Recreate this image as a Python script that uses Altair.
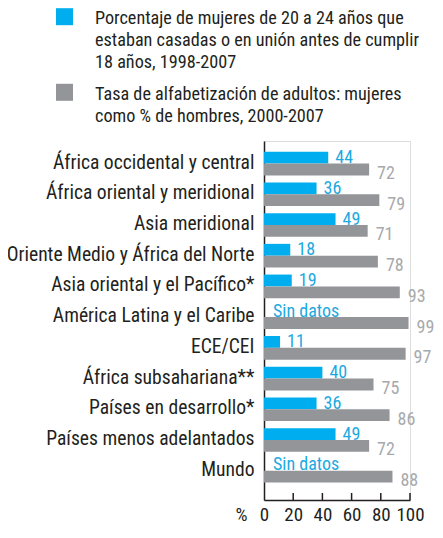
import altair as alt
import pandas as pd

regions = [
    "África occidental y central",
    "África oriental y meridional",
    "Asia meridional",
    "Oriente Medio y África del Norte",
    "Asia oriental y el Pacífico*",
    "América Latina y el Caribe",
    "ECE/CEI",
    "África subsahariana**",
    "Países en desarrollo*",
    "Países menos adelantados",
    "Mundo",
]
mujeres_casadas = [44, 36, 49, 18, 19, None, 11, 40, 36, 49, None]
alfabetizacion = [72, 79, 71, 78, 93, 99, 97, 75, 86, 72, 88]
series = ["casadas", "alfabetizacion"]
legend_casadas = [
    "Porcentaje de mujeres de 20 a 24 años que",
    "estaban casadas o en unión antes de cumplir",
    "18 años, 1998-2007",
]
legend_alfab = [
    "Tasa de alfabetización de adultos: mujeres",
    "como % de hombres, 2000-2007",
]
x_ticks = [0, 20, 40, 60, 80, 100]
no_data = "Sin datos"

rows = []
for r, a, b in zip(regions, mujeres_casadas, alfabetizacion):
    rows.append({"region": r, "serie": series[0], "valor": a})
    rows.append({"region": r, "serie": series[1], "valor": b})
df = pd.DataFrame(rows)

W, H = 146, 359
PAD_LEFT, PAD_TOP = 256, 133
SVG_W, SVG_H = 427, 518
FONT = "Roboto Condensed, Liberation Sans Narrow, DejaVu Sans Condensed, sans-serif"
INK = "#231F20"
BLUE, GRAY = "#00AEEF", "#939598"

x_enc = alt.X(
    "valor:Q",
    scale=alt.Scale(domain=[0, 100], nice=False),
    axis=alt.Axis(
        values=x_ticks, ticks=False, grid=False, labelFontSize=19,
        labelPadding=20, labelBaseline="alphabetic", labelColor=INK,
        labelFont=FONT, labelFlush=False, domainColor=INK, domainWidth=1.5,
        title="%", titleX=-23, titleY=20, titleBaseline="alphabetic",
        titleAlign="center", titleAngle=0, titleFontWeight="normal",
        titleFontSize=19, titleColor=INK, titleFont=FONT,
    ),
)
y_enc = alt.Y(
    "region:N", sort=regions,
    scale=alt.Scale(paddingInner=0.229, paddingOuter=0.4585, align=0.38),
    axis=alt.Axis(
        title=None, ticks=False, labelPadding=10, labelFontSize=19.6,
        labelColor=INK, labelLimit=0, labelFont=FONT, labelOffset=-1,
        domainColor=INK, domainWidth=1.5,
    ),
)
yoff_enc = alt.YOffset("serie:N", sort=series)
color_enc = alt.Color("serie:N", scale=alt.Scale(domain=series, range=[BLUE, GRAY]), legend=None)

base = alt.Chart(df)
bars = base.mark_bar().encode(x=x_enc, y=y_enc, yOffset=yoff_enc, color=color_enc)

blue_txt = base.transform_filter(
    f"datum.serie == '{series[0]}' && isValid(datum.valor)"
).mark_text(
    align="left", baseline="alphabetic", dx=7, dy=5.5, fontSize=18,
    color="#1CA9E1", font=FONT,
).encode(x=x_enc, y=y_enc, yOffset=yoff_enc, text=alt.Text("valor:Q", format="d"))

nodata_txt = base.transform_filter(
    f"datum.serie == '{series[0]}' && !isValid(datum.valor)"
).transform_calculate(valor="0").mark_text(
    align="left", baseline="alphabetic", dx=9, dy=5.5, fontSize=18,
    color="#1CA9E1", font=FONT, text=no_data,
).encode(x=x_enc, y=y_enc, yOffset=yoff_enc)

gray_txt = base.transform_filter(
    f"datum.serie == '{series[1]}'"
).mark_text(
    align="left", baseline="alphabetic", dx=8, dy=9.5, fontSize=18,
    color="#A7A9AC", font=FONT,
).encode(x=x_enc, y=y_enc, yOffset=yoff_enc, text=alt.Text("valor:Q", format="d"))

ticks = alt.Chart(pd.DataFrame({"valor": x_ticks[1:]})).mark_rule(
    color=INK, strokeWidth=1.5
).encode(x=x_enc, y=alt.value(H - 7), y2=alt.value(H))

leg1 = pd.DataFrame({"serie": [series[0]], "txt": [legend_casadas]})
leg2 = pd.DataFrame({"serie": [series[1]], "txt": [legend_alfab]})

def legend_layers(d, sq_y, txt_y):
    sq = alt.Chart(d).mark_square(size=289, opacity=1).encode(
        x=alt.value(64.5 - 8 - PAD_LEFT), y=alt.value(sq_y), color=color_enc
    )
    tx = alt.Chart(d).mark_text(
        align="left", baseline="alphabetic", lineHeight=22, fontSize=18.2,
        color=INK, font=FONT,
    ).encode(x=alt.value(95 - 8 - PAD_LEFT), y=alt.value(txt_y), text="txt:N")
    return [sq, tx]

top_abs = 8 + PAD_TOP
layers = [bars, blue_txt, nodata_txt, gray_txt, ticks]
layers += legend_layers(leg1, 16.7 - top_abs, 24.3 - top_abs)
layers += legend_layers(leg2, 92.3 - top_abs, 100.3 - top_abs)

chart = alt.layer(*layers).properties(
    width=W, height=H,
    autosize=alt.AutoSizeParams(type="none"),
    padding={"left": PAD_LEFT, "top": PAD_TOP, "right": SVG_W - PAD_LEFT - W,
             "bottom": SVG_H - PAD_TOP - H},
).configure_view(stroke=None).configure(font=FONT)

chart.save("out.html", embed_options={"renderer": "svg", "actions": False})
